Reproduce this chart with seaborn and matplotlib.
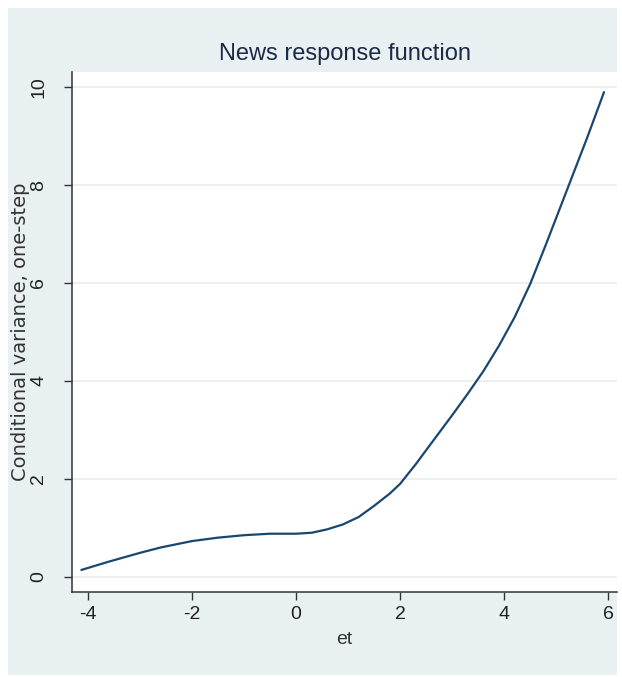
import matplotlib
matplotlib.use("Agg")
import matplotlib.pyplot as plt
import matplotlib.patches as mpatches
import seaborn as sns
import pandas as pd

# News response function (Stata-style look)

# values
et = [-4.13, -3.6, -3.0, -2.6, -2.0, -1.5, -1.0, -0.5, 0.0, 0.3, 0.6, 0.9,
      1.2, 1.5, 1.8, 2.0, 2.3, 2.6, 3.0, 3.3, 3.6, 3.9, 4.2, 4.5, 4.8,
      5.2, 5.6, 5.92]
cond_var = [0.14, 0.31, 0.49, 0.60, 0.73, 0.80, 0.85, 0.88, 0.88, 0.90, 0.97, 1.07,
            1.22, 1.45, 1.70, 1.90, 2.30, 2.73, 3.30, 3.74, 4.20, 4.72, 5.30, 5.98, 6.78,
            7.88, 8.98, 9.90]

x_ticks = [-4, -2, 0, 2, 4, 6]
y_ticks = [0, 2, 4, 6, 8, 10]

df = pd.DataFrame({"et": et, "cond_var": cond_var})

sns.set_theme(style="white")
arial = ["Liberation Sans", "DejaVu Sans"]

fig = plt.figure(figsize=(6.22, 6.77), dpi=100, facecolor="white")
bg = "#e9f0f2"
fig.patches.append(mpatches.Rectangle((0.013, 0.003), 0.979, 0.985,
                                      transform=fig.transFigure,
                                      facecolor=bg, edgecolor="none", zorder=-10))

ax = fig.add_axes([0.1158, 0.1256, 0.8762, 0.768])
ax.set_facecolor("white")

sns.lineplot(data=df, x="et", y="cond_var", ax=ax, color="#1a476f", linewidth=1.6)

ax.set_xlim(-4.31, 6.17)
ax.set_ylim(-0.31, 10.31)
ax.set_xticks(x_ticks)
ax.set_yticks(y_ticks)
ax.set_xticklabels([str(v) for v in x_ticks], family=arial, fontsize=14, color="#222222")
ax.set_yticklabels([str(v) for v in y_ticks], family=arial, fontsize=14, color="#222222",
                   rotation=90, va="center")

for y in y_ticks:
    ax.axhline(y, color="#eaeeee", linewidth=1.3, zorder=0)

for side in ["top", "right"]:
    ax.spines[side].set_visible(False)
for side in ["left", "bottom"]:
    ax.spines[side].set_color("#333333")
    ax.spines[side].set_linewidth(1.1)

ax.tick_params(axis="both", direction="out", length=6, width=1.0, color="#333333",
               bottom=True, left=True)
ax.tick_params(axis="x", pad=4)
ax.tick_params(axis="y", pad=12)

ax.set_xlabel("et", family=arial, fontsize=14, color="#333333", labelpad=6)
ax.set_ylabel("Conditional variance, one-step", fontsize=14, color="#333333")
ax.yaxis.set_label_coords(-0.077, 0.5)
ax.set_title("News response function", family=arial, fontsize=17, color="#1c2a48", pad=9)

fig.savefig("out.png", dpi=100, facecolor=fig.get_facecolor())
